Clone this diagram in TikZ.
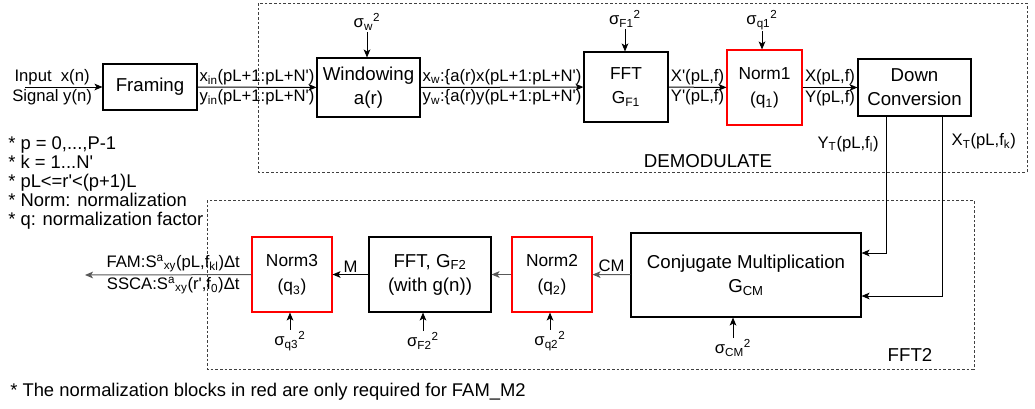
\documentclass[tikz,border=0pt]{standalone}
\usepackage{fontspec}
\setmainfont{Liberation Sans}[Ligatures=TeXOff]
\usepackage{xcolor}
\usepackage{tikz}
\usetikzlibrary{arrows.meta,calc}

\begin{document}
\begin{tikzpicture}[x=0.75pt,y=-0.75pt,>={Stealth[length=6pt,width=5pt,inset=1.5pt]},
    every node/.style={font=\fontsize{12.5}{15}\selectfont},
    block/.style={draw,line width=0.8pt,inner sep=0pt,align=center,font=\fontsize{14}{18}\selectfont},
    normblock/.style={block,draw=red,font=\fontsize{13}{19}\selectfont},
    sig/.style={font=\fontsize{12.5}{14}\selectfont,inner sep=1pt},
    lbl/.style={inner sep=1.5pt},
    group/.style={draw=black!75,dash pattern=on 2pt off 1.5pt,line width=0.6pt},
    flow/.style={->,line width=0.75pt},
    greyflow/.style={flow,draw=black!65},
    note/.style={align=left,inner sep=0pt,font=\fontsize{13.8}{14.25}\selectfont}]
    \useasboundingbox (0,0) rectangle (1035,408);

    % dashed groups
    \draw[group] (258,3) rectangle (1027,172);
    \draw[group] (207,200) rectangle (974,369);
    \node[font=\fontsize{14}{16}\selectfont] (demod) at (708,161) {DEMODULATE};
    \node[font=\fontsize{14}{16}\selectfont] (fftlbl) at (910,355) {FFT2};

    % top row
    \coordinate (in) at (25,87);
    \node[block,minimum width=70.5pt,minimum height=34.5pt] (framing) at (150,87) {Framing};
    \node[block,minimum width=77.25pt,minimum height=44.25pt] (win) at (368.5,87.5) {Windowing\\a(r)};
    \node[block,minimum width=63pt,minimum height=52.5pt,font=\fontsize{13}{18}\selectfont] (fft1) at (626,87) {FFT\\G\textsubscript{F1}};
    \node[normblock,minimum width=56.25pt,minimum height=56.25pt] (norm1) at (764.5,87.5) {Norm1\\(q\textsubscript{1})};
    \node[block,minimum width=84.75pt,minimum height=42.75pt] (dc) at (914.5,87.5) {Down\\Conversion};

    % bottom row
    \node[block,minimum width=172.5pt,minimum height=63pt] (conj) at (746,275) {Conjugate Multiplication\\G\textsubscript{CM}};
    \node[normblock,minimum width=60pt,minimum height=56.25pt] (norm2) at (552,274.5) {Norm2\\(q\textsubscript{2})};
    \node[block,minimum width=91.5pt,minimum height=56.25pt] (fft2) at (430,274.5) {FFT, G\textsubscript{F2}\\(with g(n))};
    \node[normblock,minimum width=60pt,minimum height=56.25pt] (norm3) at (292,274.5) {Norm3\\(q\textsubscript{3})};
    \coordinate (out) at (85,275);

    % noise inputs
    \node[sig] (sw) at (367,22) {σ\textsubscript{w}\textsuperscript{2}};
    \node[sig] (sf1) at (625,19) {σ\textsubscript{F1}\textsuperscript{2}};
    \node[sig] (sq1) at (762,20) {σ\textsubscript{q1}\textsuperscript{2}};
    \node[sig] (sq3) at (290,341) {σ\textsubscript{q3}\textsuperscript{2}};
    \node[sig] (sf2) at (423,341) {σ\textsubscript{F2}\textsuperscript{2}};
    \node[sig] (sq2) at (550,341) {σ\textsubscript{q2}\textsuperscript{2}};
    \node[sig] (scm) at (733,348) {σ\textsubscript{CM}\textsuperscript{2}};
    \draw[flow] (sw.south) -- (sw.south |- win.north);
    \draw[flow] (sf1.south) -- (sf1.south |- fft1.north);
    \draw[flow] (sq1.south) -- (sq1.south |- norm1.north);
    \draw[flow] (sq3.north) -- (sq3.north |- norm3.south);
    \draw[flow] (sf2.north) -- (sf2.north |- fft2.south);
    \draw[flow] (sq2.north) -- (sq2.north |- norm2.south);
    \draw[flow] (scm.north) -- (scm.north |- conj.south);

    % signal path
    \draw[flow] (in) -- (framing)
      node[lbl,above,pos=0.35] {Input\ \ x(n)} node[lbl,below,pos=0.35] {Signal y(n)};
    \draw[flow] (framing) -- (win)
      node[lbl,above,midway] {x\textsubscript{in}(pL+1:pL+N')} node[lbl,below,midway] {y\textsubscript{in}(pL+1:pL+N')};
    \draw[flow] (win) -- (fft1)
      node[lbl,above,midway] {x\textsubscript{w}:\{a(r)x(pL+1:pL+N')} node[lbl,below,midway] {y\textsubscript{w}:\{a(r)y(pL+1:pL+N')};
    \draw[flow] (fft1) -- (norm1)
      node[lbl,above,midway] {X'(pL,f)} node[lbl,below,midway] {Y'(pL,f)};
    \draw[flow] (norm1) -- (dc)
      node[lbl,above,midway] {X(pL,f)} node[lbl,below,midway] {Y(pL,f)};
    \draw[flow] ($(dc.south)+(-28,0)$) |- ($(conj.east)+(0,-22)$)
      node[lbl,left=4pt,pos=0.1] {Y\textsubscript{T}(pL,f\textsubscript{l})};
    \draw[flow] ($(dc.south)+(28,0)$) |- ($(conj.east)+(0,21)$)
      node[lbl,right=5pt,pos=0.07] {X\textsubscript{T}(pL,f\textsubscript{k})};
    \draw[greyflow] (conj) -- (norm2) node[lbl,above,midway,text=black] {CM};
    \draw[greyflow] (norm2) -- (fft2);
    \draw[flow] (fft2) -- (norm3) node[lbl,above,midway] {M};
    \draw[greyflow] (norm3) -- (out)
      node[lbl,above,pos=0.47,text=black] {FAM:S\textsuperscript{a}\textsubscript{xy}(pL,f\textsubscript{kl})Δt}
      node[lbl,below,pos=0.47,text=black] {SSCA:S\textsuperscript{a}\textsubscript{xy}(r',f\textsubscript{0})Δt};

    % notes
    \node[note,anchor=north west] (notes) at (8,136) {* p = 0,...,P-1\\* k = 1...N'\\* pL<=r'<(p+1)L\\* Norm: normalization\\* q: normalization factor};
    \node[note,anchor=west] (foot) at (10,392) {* The normalization blocks in red are only required for FAM\_M2};
\end{tikzpicture}
\end{document}
